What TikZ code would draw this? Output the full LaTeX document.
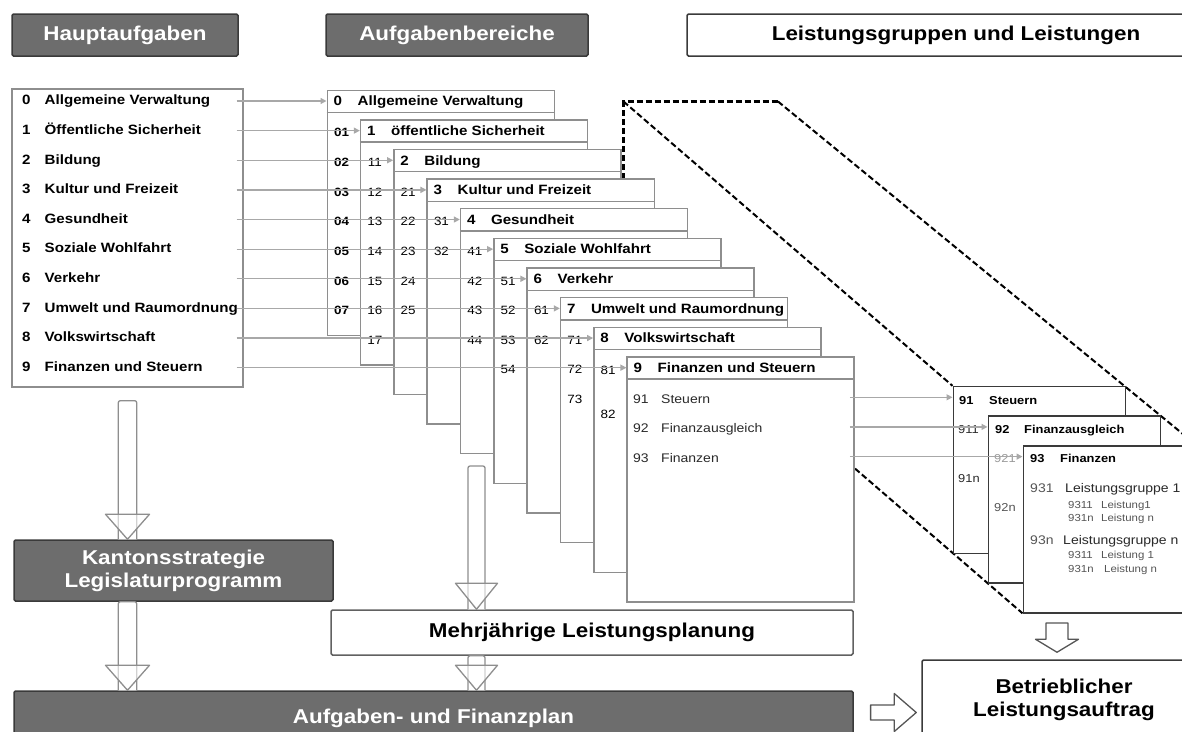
\documentclass[tikz,border=0pt]{standalone}
\usepackage{fontspec}
\setmainfont{Liberation Sans}[FakeStretch=1.12]
\usetikzlibrary{arrows.meta,calc}

\definecolor{boxgray}{HTML}{6D6D6D}
\definecolor{boxedge}{HTML}{3A3A3A}
\definecolor{cardedge}{HTML}{8E8E8E}
\definecolor{linkgray}{HTML}{A8A8A8}
\definecolor{inkdark}{HTML}{2A2A2A}
\definecolor{inkmid}{HTML}{555555}
\definecolor{inklight}{HTML}{9A9A9A}

\newcommand\fsz[1]{\fontsize{#1}{#1}\selectfont}

% hollow block arrow pointing down: #1 shaft top, #2 tip, #3 head length, #4 shaft half width, #5 head half width
\newcommand\hollowdown[5]{%
  \draw[hollow, rounded corners=2pt] let \p1=(#1), \p2=(#2) in
    (\x1-#4pt,\y2) -- (\x1-#4pt,\y1) -- (\x1+#4pt,\y1) -- (\x1+#4pt,\y2);
  \draw[hollow, fill opacity=0.6] let \p1=(#1), \p2=(#2) in
    (\x1-#5pt,\y2+#3pt) -- (\x1,\y2) -- (\x1+#5pt,\y2+#3pt) -- cycle;
}
% hollow block arrow as one outline, pointing down
\newcommand\outlinedown[5]{%
  \draw[hollow] let \p1=(#1), \p2=(#2) in
    (\x1-#4pt,\y1) -- (\x1-#4pt,\y2+#3pt) -- (\x1-#5pt,\y2+#3pt) -- (\x1,\y2)
    -- (\x1+#5pt,\y2+#3pt) -- (\x1+#4pt,\y2+#3pt) -- (\x1+#4pt,\y1) -- cycle;
}
% hollow block arrow as one outline, pointing right
\newcommand\outlineright[5]{%
  \draw[hollow] let \p1=(#1), \p2=(#2) in
    (\x1,\y1+#4pt) -- (\x2-#3pt,\y1+#4pt) -- (\x2-#3pt,\y1+#5pt) -- (\x2,\y1)
    -- (\x2-#3pt,\y1-#5pt) -- (\x2-#3pt,\y1-#4pt) -- (\x1,\y1-#4pt) -- cycle;
}

\begin{document}
\begin{tikzpicture}[x=1pt,y=-1pt,
  darkbox/.style={draw=boxedge, line width=1.5pt, fill=boxgray, rounded corners=1.5pt,
    text=white, font=\bfseries\fsz{20}, inner sep=0pt, align=center},
  whitebox/.style={draw=boxedge, line width=1.5pt, fill=white, rounded corners=1.5pt,
    text=black, font=\bfseries\fsz{20}, inner sep=0pt, align=center},
  listbox/.style={draw=cardedge, line width=1.4pt, fill=white, inner sep=0pt},
  card/.style={draw=cardedge, line width=1.4pt, fill=white, inner sep=0pt,
    minimum width=227pt, minimum height=245pt, anchor=north west},
  subcard/.style={draw=boxedge, line width=1.4pt, fill=white, inner sep=0pt,
    minimum width=172pt, minimum height=167pt, anchor=north west},
  link/.style={draw=linkgray, line width=1.3pt, -{Triangle[length=6pt,width=6pt]}},
  funnel/.style={draw=black, line width=2pt, dash pattern=on 6pt off 3pt},
  hollow/.style={draw=cardedge, fill=white, line width=1.3pt, line join=round},
  lbl/.style={anchor=base west, inner sep=0pt, font=\bfseries\fsz{13.5}, text=black},
  num/.style={anchor=base, inner sep=0pt, font=\fsz{12}, text=black},
  body/.style={anchor=base west, inner sep=0pt, font=\fsz{12.5}, text=inkdark},
  small/.style={anchor=base west, inner sep=0pt, font=\fsz{10.2}, text=inkmid},
]
\useasboundingbox (0,0) rectangle (1182,731);
\clip (0,0) rectangle (1182,731);

% column headings
\node[darkbox, minimum width=226pt, minimum height=42pt] (haupt) at (125,35) {Hauptaufgaben};
\node[darkbox, minimum width=262pt, minimum height=42pt] (bereich) at (457,35) {Aufgabenbereiche};
\node[whitebox, minimum width=538pt, minimum height=42pt] (leist) at (956,35) {Leistungsgruppen und Leistungen};

% dashed magnifier outline from card 9 to the detail cards
\draw[funnel, line width=2.3pt] (623.5,268.5) -- (623.5,101.5) -- (778,101.5);
\draw[funnel] (623.5,101.5) -- (952.5,385.8);
\draw[funnel] (778,101.5) -- (1192,441.5);
\draw[funnel] (623.5,268.5) -- (1022.5,613.3);

% main task list
\node[listbox, minimum width=231pt, minimum height=298pt] (list) at (127.5,238) {};
\foreach \k/\title in {0/Allgemeine Verwaltung,1/Öffentliche Sicherheit,2/Bildung,
    3/Kultur und Freizeit,4/Gesundheit,5/Soziale Wohlfahrt,6/Verkehr,
    7/Umwelt und Raumordnung,8/Volkswirtschaft,9/Finanzen und Steuern}{
  \node[lbl] at (22,104.8+29.63*\k) {\k};
  \node[lbl] at (44.5,104.8+29.63*\k) {\title};
}

% stacked task-area cards
\foreach \k/\title in {0/Allgemeine Verwaltung,1/öffentliche Sicherheit,2/Bildung,
    3/Kultur und Freizeit,4/Gesundheit,5/Soziale Wohlfahrt,6/Verkehr,
    7/Umwelt und Raumordnung,8/Volkswirtschaft,9/Finanzen und Steuern}{
  \pgfmathsetmacro\cx{326.5+33.33*\k}
  \pgfmathsetmacro\ct{89.5+29.63*\k}
  \node[card] (c\k) at (\cx,\ct) {};
  \draw[cardedge, line width=1.4pt] ([yshift=-23pt]c\k.north west) -- ([yshift=-23pt]c\k.north east);
  \coordinate (h\k) at (\cx,\ct+11.5);
  \node[lbl] at (\cx+7,\ct+16.3) {\k};
  \node[lbl] at (\cx+31,\ct+16.3) {\title};
}

% sub-area numbers inside the cards
\foreach \m in {1,...,7}{
  \node[num, font=\bfseries\fsz{12}] at (341.5,107.3+29.63*\m) {0\m};
}
\foreach \k/\n in {1/7,2/5,3/2,4/4,5/4,6/2,7/3}{
  \foreach \m in {1,...,\n}{
    \node[num] at (341.5+33.33*\k,107.3+29.63*\k+29.63*\m) {\k\m};
  }
}
\node[num] at (608.1,374) {81};
\node[num] at (608.1,418.7) {82};

% card 9 body
\node[body] at (633,403.3) {91};
\node[body] at (661,403.3) {Steuern};
\node[body] at (633,432.9) {92};
\node[body] at (661,432.9) {Finanzausgleich};
\node[body] at (633,462.6) {93};
\node[body] at (661,462.6) {Finanzen};

% links from the main tasks to the cards
\foreach \k in {0,...,9}{
  \draw[link] ($(list.east |- h\k)+(-7,0)$) -- (h\k);
}

% detail cards
\node[subcard] (s1) at (952.5,385.8) {};
\node[subcard] (s2) at (987.5,415.4) {};
\node[subcard] (s3) at (1022.5,445.1) {};
\coordinate (g1) at ($(s1.north west)+(0,11.5)$);
\coordinate (g2) at ($(s2.north west)+(0,11.5)$);
\coordinate (g3) at ($(s3.north west)+(0,11.5)$);

\node[lbl, font=\bfseries\fsz{11.5}] at (959,404.2) {91};
\node[lbl, font=\bfseries\fsz{11.5}] at (989,404.2) {Steuern};
\node[lbl, font=\fsz{11.5}, text=inkdark] at (958,433.2) {911};
\node[lbl, font=\fsz{11.5}, text=inkdark] at (958,482.2) {91n};

\node[lbl, font=\bfseries\fsz{11.5}] at (995,433.2) {92};
\node[lbl, font=\bfseries\fsz{11.5}] at (1024,433.2) {Finanzausgleich};
\node[lbl, font=\fsz{11.5}, text=inklight] at (994,462.2) {921};
\node[lbl, font=\fsz{11.5}, text=inkmid] at (994,511.2) {92n};

\node[lbl, font=\bfseries\fsz{11.5}] at (1030,462.2) {93};
\node[lbl, font=\bfseries\fsz{11.5}] at (1060,462.2) {Finanzen};
\node[body, text=inkmid] at (1030,492.3) {931};
\node[body] at (1065,492.3) {Leistungsgruppe 1};
\node[small] at (1068,508.6) {9311};
\node[small] at (1101,508.6) {Leistung1};
\node[small] at (1068,521.6) {931n};
\node[small] at (1101,521.6) {Leistung n};
\node[body, text=inkmid] at (1030,544.3) {93n};
\node[body] at (1063,544.3) {Leistungsgruppe n};
\node[small] at (1068,558.6) {9311};
\node[small] at (1101,558.6) {Leistung 1};
\node[small] at (1068,572.6) {931n};
\node[small] at (1104,572.6) {Leistung n};

% links from card 9 to the detail cards
\draw[link] ($(c9.east |- g1)+(-5,0)$) -- (g1);
\draw[link] ($(c9.east |- g2)+(-5,0)$) -- (g2);
\draw[link] ($(c9.east |- g3)+(-5,0)$) -- (g3);

% planning boxes
\node[darkbox, minimum width=319pt, minimum height=61pt] (kant) at (173.5,570.5)
  {Kantonsstrategie\\[3pt]Legislaturprogramm};
\node[whitebox, draw=boxedge!80, minimum width=522pt, minimum height=45pt] (mehr) at (592,632.5)
  {Mehrjährige Leistungsplanung};
\node[darkbox, minimum width=839pt, minimum height=54pt] (aufg) at (433.5,718)
  {Aufgaben- und Finanzplan};
\node[whitebox, minimum width=284pt, minimum height=80pt] (betr) at (1064,700)
  {Betrieblicher\\[3pt]Leistungsauftrag};

% block arrows
\coordinate (mtop) at (476.5,466);
\hollowdown{$(list.south)+(0,13)$}{list.south |- kant.north}{25}{9.2}{22}
\hollowdown{list.south |- kant.south}{list.south |- aufg.north}{25}{9.2}{22}
\hollowdown{mtop}{mtop |- mehr.north}{26}{8.5}{21}
\hollowdown{mtop |- mehr.south}{mtop |- aufg.north}{25}{8.5}{21}
\begin{scope}[hollow/.append style={draw=inkmid}]
  \coordinate (rstart) at (870.6,712.5);
  \outlineright{rstart}{$(rstart -| betr.west)+(-5,0)$}{22}{7.5}{19}
  \coordinate (dtop) at (1057,623);
  \outlinedown{dtop}{$(dtop |- betr.north)+(0,-7)$}{13}{11}{21.5}
\end{scope}
\end{tikzpicture}
\end{document}
